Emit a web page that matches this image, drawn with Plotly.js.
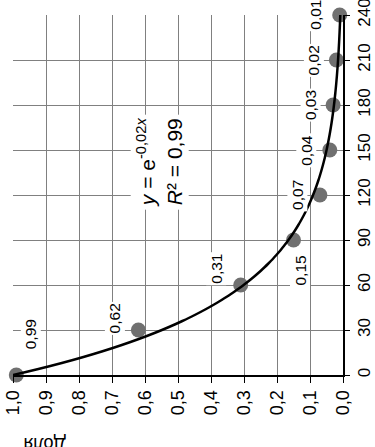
<!DOCTYPE html>
<html>
<head>
<meta charset="utf-8">
<script src="https://cdn.plot.ly/plotly-3.0.1.min.js"></script>
<style>
  html, body { margin: 0; padding: 0; background: #fff; }
  #chart { width: 375px; height: 447px; }
</style>
</head>
<body>
<div id="chart"></div>
<script>
// ---- data ----
const TIME = [0, 30, 60, 90, 120, 150, 180, 210, 240];
const SHARE = [0.99, 0.62, 0.31, 0.15, 0.07, 0.04, 0.03, 0.02, 0.01];
const TIME_TICKS = [0, 30, 60, 90, 120, 150, 180, 210, 240];
const SHARE_TICKS = [1.0, 0.9, 0.8, 0.7, 0.6, 0.5, 0.4, 0.3, 0.2, 0.1, 0.0];
const AXIS_TITLE = 'Доля';
// exponential trendline shown on the chart: y = e^(-0,02x), R² = 0,99
const TREND_K = -0.02;
const TREND_R2 = 0.99;

// ---- styling / placement (not data) ----
const LABEL_OFFSETS = [[14, -41], [-24, -12], [-25, -16], [6, 31], [-23, 0], [-24, 0], [-23, 0], [-23, 0], [-25, 0]];
const FONT = 'Liberation Sans, Arial, sans-serif';

const fmt = (v, d) => v.toFixed(d).replace('.', ',');

// trendline sampled over the time range
const trendT = [];
for (let t = TIME[0]; t <= TIME[TIME.length - 1]; t += 2) trendT.push(t);
const trendY = trendT.map(t => Math.exp(TREND_K * t));

const traces = [
  {
    type: 'scatter', mode: 'markers',
    x: SHARE, y: TIME,
    marker: { size: 15, color: '#707070' },
    cliponaxis: false, hoverinfo: 'skip', showlegend: false
  },
  {
    type: 'scatter', mode: 'lines',
    x: trendY, y: trendT,
    line: { color: '#000', width: 2.5, shape: 'spline' },
    cliponaxis: false, hoverinfo: 'skip', showlegend: false
  }
];

const annotations = SHARE.map((v, i) => ({
  x: v, y: TIME[i], xref: 'x', yref: 'y',
  text: fmt(v, 2),
  showarrow: true, arrowcolor: 'rgba(0,0,0,0)', arrowwidth: 0.1, arrowhead: 0,
  ax: LABEL_OFFSETS[i][0], ay: LABEL_OFFSETS[i][1],
  textangle: -90, bgcolor: '#fff', borderpad: 1,
  font: { family: FONT, size: 15.5, color: '#000' }
}));

annotations.push({
  x: 0.557, y: 142, xref: 'x', yref: 'y',
  text: '<i>y</i> = e<sup>' + fmt(TREND_K, 2) + '<i>x</i></sup><br><i>R</i>² = ' + fmt(TREND_R2, 2),
  showarrow: false, textangle: -90, bgcolor: '#fff', borderpad: 2,
  font: { family: FONT, size: 21, color: '#000' }
});

annotations.push({
  x: 0.027, y: -0.19, xref: 'paper', yref: 'paper', yanchor: 'middle',
  text: AXIS_TITLE, showarrow: false, textangle: 180,
  font: { family: FONT, size: 18, color: '#000' }
});

const layout = {
  width: 375, height: 447,
  margin: { l: 13, r: 32, t: 15, b: 72 },
  paper_bgcolor: '#fff', plot_bgcolor: '#fff',
  separators: ', ',
  showlegend: false,
  xaxis: {
    range: [SHARE_TICKS[0], SHARE_TICKS[SHARE_TICKS.length - 1]],
    tickmode: 'array', tickvals: SHARE_TICKS, ticktext: SHARE_TICKS.map(v => fmt(v, 1)),
    tickangle: -90, ticks: 'outside', ticklen: 6, tickcolor: '#000', tickwidth: 1,
    ticklabeloverflow: 'allow',
    showline: true, linecolor: '#000', linewidth: 2,
    showgrid: true, gridcolor: '#808080', gridwidth: 1, zeroline: false,
    tickfont: { family: FONT, size: 18, color: '#000' }
  },
  yaxis: {
    side: 'right',
    range: [TIME_TICKS[0], TIME_TICKS[TIME_TICKS.length - 1]],
    tickmode: 'array', tickvals: TIME_TICKS, ticktext: TIME_TICKS.map(String),
    tickangle: -90, ticks: 'outside', ticklen: 5, tickcolor: '#000', tickwidth: 1,
    ticklabeloverflow: 'allow',
    showline: true, linecolor: '#000', linewidth: 2,
    showgrid: true, gridcolor: '#808080', gridwidth: 1, zeroline: false,
    tickfont: { family: FONT, size: 17, color: '#000' }
  },
  annotations: annotations
};

Plotly.newPlot('chart', traces, layout, { staticPlot: true, displayModeBar: false });
</script>
</body>
</html>
